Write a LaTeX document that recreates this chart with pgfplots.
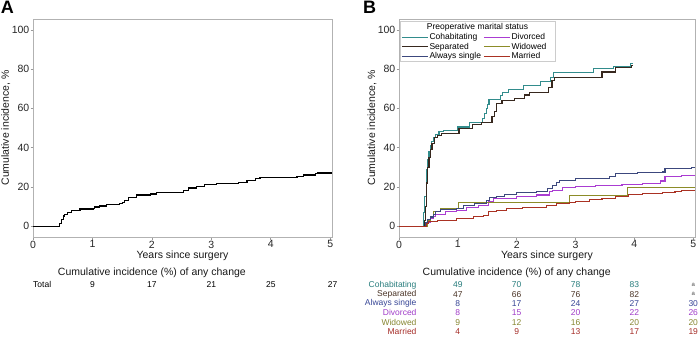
\documentclass[border=0pt]{standalone}
\usepackage{pgfplots}
\pgfplotsset{compat=1.18}
\usepackage{fontspec}
\setmainfont{Liberation Sans}
\definecolor{cohab}{RGB}{50,140,140}
\definecolor{sepr}{RGB}{55,40,30}
\definecolor{single}{RGB}{60,72,125}
\definecolor{divor}{RGB}{170,60,210}
\definecolor{widow}{RGB}{140,140,40}
\definecolor{marr}{RGB}{170,50,35}
\definecolor{cohabT}{RGB}{40,125,125}
\definecolor{seprT}{RGB}{75,52,38}
\definecolor{singleT}{RGB}{55,70,150}
\definecolor{divorT}{RGB}{160,60,200}
\definecolor{widowT}{RGB}{135,135,50}
\definecolor{marrT}{RGB}{165,45,40}
\tikzset{tab/.style={font=\fontsize{8.5}{9}\selectfont, inner sep=0pt}}
\pgfplotsset{
  myaxis/.style={
    scale only axis, height=218pt, anchor=south west,
    xmin=0, xmax=5.03, ymin=-5.5, ymax=105.5,
    xtick={0,1,2,3,4,5}, ytick={0,20,40,60,80,100},
    tick align=outside, xtick pos=left, ytick pos=left,
    major tick length=2.5pt,
    axis line style={black!30, line width=0.8pt},
    tick style={black!40, line width=0.6pt},
    tick label style={font=\fontsize{10.5}{12}\selectfont, text=black!85},
    /pgf/number format/assume math mode=true,
    xticklabel style={inner sep=1pt},
    yticklabel style={inner sep=1pt},
    xlabel={Years since surgery}, ylabel={Cumulative incidence, \%},
    label style={font=\fontsize{10.5}{12}\selectfont, text=black!90},
    xlabel style={at={(axis description cs:0.5,-0.087)}, anchor=center},
    ylabel style={at={(axis description cs:-0.091,0.5)}, anchor=center},
    clip=false,
  },
}
\begin{document}
\begin{tikzpicture}
\useasboundingbox (0pt,0pt) rectangle (700pt,-339pt);
\node[anchor=north west, inner sep=0pt, font=\bfseries\fontsize{18}{18}\selectfont] at (0.8pt,-1pt) {A};
\node[anchor=north west, inner sep=0pt, font=\bfseries\fontsize{18}{18}\selectfont] at (363pt,-1pt) {B};

% Panel A
\begin{axis}[myaxis, at={(33pt,-237pt)}, width=299pt]
\addplot[const plot, black, line width=1.2pt] coordinates {
(0,0)(0.42,0)(0.45,1.5)(0.48,3.5)(0.51,5.2)(0.53,5.8)(0.58,7)(0.65,7.8)(0.79,8.8)(1.01,9)(1.03,9.8)(1.12,10.3)(1.24,11.2)(1.46,11.4)(1.50,12.2)(1.54,13.2)(1.6,14.6)(1.74,15.9)(1.97,16.4)(2.08,17)(2.42,17.3)(2.53,18)(2.61,19.5)(2.75,20.3)(2.89,21.2)(3.09,21.7)(3.46,22.2)(3.6,23.2)(3.74,24.2)(3.82,24.6)(4.33,24.9)(4.44,25.3)(4.55,26.1)(4.75,26.8)(4.78,27.1)(5.03,27.1)};
\node[font=\fontsize{10.5}{12}\selectfont, text=black!90] at (axis cs:2,-23.6) {Cumulative incidence (\%) of any change};
\node[tab, anchor=west] at (axis cs:0,-29.9) {Total};
\node[tab] at (axis cs:1,-29.9) {9};
\node[tab] at (axis cs:2,-29.9) {17};
\node[tab] at (axis cs:3,-29.9) {21};
\node[tab] at (axis cs:4,-29.9) {25};
\node[tab] at (axis cs:5.04,-29.9) {27};
\end{axis}

% Panel B
\begin{axis}[myaxis, at={(399pt,-237pt)}, width=296pt,
  legend columns=2,
  legend image code/.code={\draw[#1] (0pt,0pt) -- (26pt,0pt);},
  legend style={draw=none, fill=none, inner sep=0pt, row sep=-0.6pt,
    at={(axis description cs:0.0068,0.94)}, anchor=north west,
    font=\fontsize{8.5}{9}\selectfont,
    nodes={inner sep=1.2pt, anchor=west},
    /tikz/every even column/.append style={column sep=1pt}},
]
\addplot[const plot, cohab, line width=1.1pt] coordinates {
(0,0)(0.41,0)(0.42,7)(0.44,15)(0.46,24)(0.47,29)(0.49,34)(0.51,38)(0.53,41)(0.55,43)(0.58,45)(0.62,46.5)(0.68,48)(0.75,48.5)(1.0,50.5)(1.2,53)(1.42,55)(1.45,57.5)(1.48,60)(1.5,62)(1.53,64.7)(1.72,66.5)(1.76,68)(1.86,69.7)(2.11,71.5)(2.4,73.6)(2.58,75.5)(2.63,78.3)(3.3,80.2)(3.65,81.4)(3.93,82.8)(3.97,82.8)};
\addlegendentry{Cohabitating}
\addplot[const plot, divor, line width=1.1pt] coordinates {
(0,0)(0.43,0)(0.47,2)(0.53,3.9)(0.58,5)(0.62,6.1)(0.79,7.3)(0.98,7.8)(1.15,9.5)(1.35,10.7)(1.52,12.4)(1.6,14.1)(2.0,15.3)(2.33,15.9)(2.56,17.5)(2.61,18.3)(2.78,19.7)(3.0,20)(3.34,20.5)(3.79,21.2)(4.13,21.7)(4.45,23)(4.52,25.4)(4.8,25.9)(5.03,25.9)};
\addlegendentry{Divorced}
\addplot[const plot, sepr, line width=1.1pt] coordinates {
(0,0)(0.42,0)(0.43,3)(0.45,10)(0.47,22)(0.49,30)(0.51,35)(0.53,39)(0.56,42)(0.6,45)(0.65,46)(0.72,47)(1.02,49.7)(1.25,51.9)(1.4,53)(1.58,56)(1.63,58.3)(1.66,62.6)(1.75,63.9)(1.97,65.1)(2.14,66.8)(2.22,68)(2.54,70.7)(2.6,74.4)(2.64,75.6)(3.45,78.5)(3.68,80.9)(3.95,82)(3.97,82)};
\addlegendentry{Separated}
\addplot[const plot, widow, line width=1.1pt] coordinates {
(0,0)(0.43,0)(0.48,3)(0.53,5)(0.59,7.3)(0.7,9.2)(1.01,11.9)(2.89,15.8)(3.88,19.5)(5.03,19.5)};
\addlegendentry{Widowed}
\addplot[const plot, single, line width=1.1pt] coordinates {
(0,0)(0.42,0)(0.45,2)(0.49,3.5)(0.53,4.7)(0.58,6)(0.62,7.3)(0.7,8.5)(0.98,9)(1.1,10.7)(1.29,11.5)(1.49,13.2)(1.54,14.6)(1.66,15.3)(1.8,16)(1.99,17)(2.33,17.8)(2.53,19)(2.61,20.8)(2.67,22.2)(2.72,23.4)(3.0,24.2)(3.57,25.4)(3.68,26.8)(4.05,27.2)(4.47,27.6)(4.52,29.2)(4.97,29.8)(5.03,29.8)};
\addlegendentry{Always single}
\addplot[const plot, marr, line width=1.1pt] coordinates {
(0,0)(0.43,0)(0.47,1.2)(0.5,2.2)(0.65,3)(0.98,3.9)(1.26,5.1)(1.43,5.6)(1.52,7.3)(1.66,8.1)(1.83,8.8)(2.1,9.5)(2.5,10.7)(2.67,11.5)(2.89,12.2)(3.0,12.7)(3.23,13.6)(3.45,14.2)(3.68,15.1)(3.9,16.2)(4.13,16.6)(4.47,17)(4.69,17.8)(4.8,18.4)(5.03,18.4)};
\addlegendentry{Married}

\node[font=\fontsize{10.5}{12}\selectfont, text=black!90] at (axis cs:2,-23.6) {Cumulative incidence (\%) of any change};
% rows
\node[tab, anchor=east, text=cohabT] at (axis cs:0.30,-29.94) {Cohabitating};
\node[tab, text=cohabT] at (axis cs:1,-29.94) {49};
\node[tab, text=cohabT] at (axis cs:2,-29.94) {70};
\node[tab, text=cohabT] at (axis cs:3,-29.94) {78};
\node[tab, text=cohabT] at (axis cs:4,-29.94) {83};
\node[tab, text=black!70, font=\fontsize{6}{7}\selectfont] at (axis cs:5.0,-29.94) {a};
\node[tab, anchor=east, text=seprT] at (axis cs:0.30,-34.68) {Separated};
\node[tab, text=seprT] at (axis cs:1,-34.68) {47};
\node[tab, text=seprT] at (axis cs:2,-34.68) {66};
\node[tab, text=seprT] at (axis cs:3,-34.68) {76};
\node[tab, text=seprT] at (axis cs:4,-34.68) {82};
\node[tab, text=black!70, font=\fontsize{6}{7}\selectfont] at (axis cs:5.0,-34.68) {a};
\node[tab, anchor=east, text=singleT] at (axis cs:0.30,-39.41) {Always single};
\node[tab, text=singleT] at (axis cs:1,-39.41) {8};
\node[tab, text=singleT] at (axis cs:2,-39.41) {17};
\node[tab, text=singleT] at (axis cs:3,-39.41) {24};
\node[tab, text=singleT] at (axis cs:4,-39.41) {27};
\node[tab, text=singleT] at (axis cs:5.0,-39.41) {30};
\node[tab, anchor=east, text=divorT] at (axis cs:0.30,-44.15) {Divorced};
\node[tab, text=divorT] at (axis cs:1,-44.15) {8};
\node[tab, text=divorT] at (axis cs:2,-44.15) {15};
\node[tab, text=divorT] at (axis cs:3,-44.15) {20};
\node[tab, text=divorT] at (axis cs:4,-44.15) {22};
\node[tab, text=divorT] at (axis cs:5.0,-44.15) {26};
\node[tab, anchor=east, text=widowT] at (axis cs:0.30,-48.89) {Widowed};
\node[tab, text=widowT] at (axis cs:1,-48.89) {9};
\node[tab, text=widowT] at (axis cs:2,-48.89) {12};
\node[tab, text=widowT] at (axis cs:3,-48.89) {16};
\node[tab, text=widowT] at (axis cs:4,-48.89) {20};
\node[tab, text=widowT] at (axis cs:5.0,-48.89) {20};
\node[tab, anchor=east, text=marrT] at (axis cs:0.30,-53.62) {Married};
\node[tab, text=marrT] at (axis cs:1,-53.62) {4};
\node[tab, text=marrT] at (axis cs:2,-53.62) {9};
\node[tab, text=marrT] at (axis cs:3,-53.62) {13};
\node[tab, text=marrT] at (axis cs:4,-53.62) {17};
\node[tab, text=marrT] at (axis cs:5.0,-53.62) {19};
\end{axis}
% legend frame and title
\draw[black!20, line width=0.6pt] (400pt,-21.5pt) rectangle (555pt,-61.5pt);
\node[font=\fontsize{8.5}{9}\selectfont, inner sep=0pt] at (477.5pt,-27.5pt) {Preoperative marital status};
\end{tikzpicture}
\end{document}
